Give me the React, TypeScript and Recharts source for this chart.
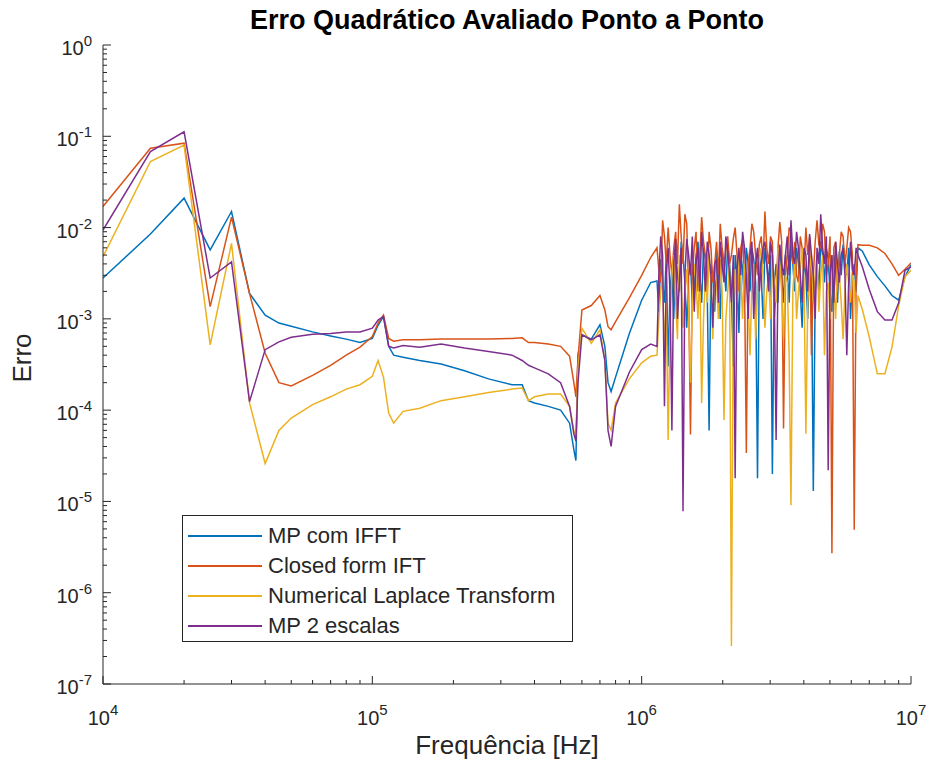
import React from 'react';
import { LineChart, Line, XAxis, YAxis } from 'recharts';

const FONT = '"Liberation Sans", Arial, Helvetica, sans-serif';
const AXIS = '#262626';

// frequency grid in Hz: smooth part, noisy band, tail
const lowFreqs = [
  1e4, 1.5e4, 2e4, 2.5e4, 3e4, 3.5e4, 4e4, 4.5e4, 5e4, 6e4, 7e4, 8e4, 9e4,
  1e5, 1.05e5, 1.1e5, 1.15e5, 1.2e5, 1.3e5, 1.5e5, 1.8e5, 2.2e5, 2.7e5, 3.3e5,
  3.6e5, 3.8e5, 4.0e5, 4.5e5, 5.0e5, 5.4e5, 5.6e5, 5.7e5, 5.8e5, 6.0e5, 6.5e5,
  7.0e5, 7.3e5, 7.5e5, 7.7e5, 8.0e5, 9.0e5, 1.0e6, 1.08e6,
];
const noiseFreqs = [
  1.140e6, 1.158e6, 1.177e6, 1.196e6, 1.215e6, 1.234e6, 1.254e6, 1.274e6, 1.295e6, 1.316e6,
  1.337e6, 1.358e6, 1.380e6, 1.402e6, 1.424e6, 1.447e6, 1.470e6, 1.494e6, 1.518e6, 1.542e6,
  1.567e6, 1.592e6, 1.618e6, 1.644e6, 1.670e6, 1.697e6, 1.724e6, 1.752e6, 1.780e6, 1.808e6,
  1.837e6, 1.867e6, 1.897e6, 1.927e6, 1.958e6, 1.989e6, 2.021e6, 2.054e6, 2.087e6, 2.120e6,
  2.154e6, 2.189e6, 2.224e6, 2.260e6, 2.296e6, 2.333e6, 2.370e6, 2.408e6, 2.447e6, 2.486e6,
  2.526e6, 2.566e6, 2.607e6, 2.649e6, 2.692e6, 2.735e6, 2.779e6, 2.823e6, 2.868e6, 2.914e6,
  2.961e6, 3.009e6, 3.057e6, 3.106e6, 3.156e6, 3.207e6, 3.258e6, 3.310e6, 3.363e6, 3.417e6,
  3.472e6, 3.528e6, 3.584e6, 3.642e6, 3.700e6, 3.760e6, 3.820e6, 3.881e6, 3.943e6, 4.007e6,
  4.071e6, 4.136e6, 4.202e6, 4.270e6, 4.338e6, 4.408e6, 4.478e6, 4.550e6, 4.623e6, 4.697e6,
  4.772e6, 4.849e6, 4.927e6, 5.006e6, 5.086e6, 5.168e6, 5.250e6, 5.335e6, 5.420e6, 5.507e6,
  5.595e6, 5.685e6, 5.776e6, 5.869e6, 5.963e6, 6.058e6, 6.155e6, 6.254e6, 6.354e6,
];
const highFreqs = [6.6e6, 7.0e6, 7.5e6, 8.0e6, 8.5e6, 9.0e6, 9.5e6, 1.0e7];

// MP com IFFT
const mpIfftLow = [
  2.8e-3, 8.5e-3, 2.1e-2, 5.7e-3, 1.5e-2, 1.9e-3, 1.1e-3, 9.0e-4, 8.3e-4, 7.2e-4, 6.5e-4, 6.0e-4, 5.5e-4,
  6.1e-4, 8.5e-4, 1.06e-3, 5.0e-4, 4.0e-4, 3.8e-4, 3.5e-4, 3.2e-4, 2.7e-4, 2.2e-4, 1.9e-4,
  1.9e-4, 1.27e-4, 1.2e-4, 1.1e-4, 1.0e-4, 7.2e-5, 3.7e-5, 2.8e-5, 4.0e-4, 6.7e-4, 6.0e-4,
  8.6e-4, 5.0e-4, 2.0e-4, 1.6e-4, 2.3e-4, 6.9e-4, 1.6e-3, 2.5e-3,
];
const mpIfftNoise = [
  2.6e-3, 1.2e-3, 4.5e-3, 2.5e-3, 1.5e-3, 5.0e-3, 3.0e-4, 2.0e-3, 3.5e-3, 1.0e-3,
  6.0e-3, 3.0e-3, 2.0e-3, 7.0e-3, 5.0e-3, 2.5e-3, 8.0e-4, 3.0e-3, 4.0e-3, 1.5e-3,
  2.5e-3, 5.0e-3, 7.0e-3, 3.0e-3, 1.5e-3, 6.0e-3, 4.5e-3, 2.0e-3, 6.0e-5, 4.0e-3,
  3.0e-3, 1.2e-3, 5.5e-3, 3.5e-3, 1.0e-3, 6.0e-3, 4.0e-3, 2.0e-3, 6.5e-3, 4.0e-3,
  2.0e-3, 3.0e-4, 5.0e-3, 3.0e-3, 7.0e-4, 5.0e-3, 3.5e-3, 1.5e-3, 6.0e-3, 4.0e-3,
  2.0e-3, 6.0e-3, 4.5e-3, 2.5e-3, 1.8e-5, 5.0e-3, 3.0e-3, 1.0e-3, 6.0e-3, 4.0e-3,
  2.5e-3, 5.0e-3, 2.0e-5, 2.5e-3, 4.0e-3, 1.5e-3, 5.5e-3, 3.0e-3, 1.5e-3, 5.0e-3,
  3.5e-3, 1.5e-3, 6.5e-3, 4.0e-3, 2.0e-3, 6.0e-3, 4.0e-3, 2.0e-3, 8.0e-4, 4.5e-3,
  3.0e-3, 1.0e-3, 5.0e-3, 3.0e-3, 1.3e-5, 2.0e-3, 4.0e-3, 2.0e-3, 7.0e-3, 5.0e-3,
  2.5e-3, 6.0e-3, 4.5e-3, 2.0e-3, 1.2e-3, 5.0e-3, 3.5e-3, 1.5e-3, 5.5e-3, 3.0e-3,
  6.5e-3, 4.5e-3, 3.0e-3, 6.0e-3, 1.0e-3, 3.0e-3, 4.0e-3, 2.0e-3, 6.0e-3,
];
const mpIfftHigh = [5.5e-3, 3.9e-3, 2.9e-3, 2.3e-3, 1.8e-3, 1.6e-3, 2.9e-3, 3.9e-3];

// Closed form IFT
const closedLow = [
  1.7e-2, 7.4e-2, 8.4e-2, 1.36e-3, 1.3e-2, 1.9e-3, 4.2e-4, 2.0e-4, 1.84e-4, 2.4e-4, 3.1e-4, 4.0e-4, 4.9e-4,
  6.4e-4, 9.0e-4, 1.1e-3, 6.1e-4, 5.7e-4, 5.9e-4, 5.9e-4, 6.0e-4, 6.0e-4, 6.0e-4, 6.1e-4,
  6.2e-4, 5.5e-4, 5.5e-4, 5.3e-4, 5.0e-4, 3.9e-4, 2.0e-4, 1.4e-4, 3.6e-4, 1.25e-3, 1.4e-3,
  1.8e-3, 1.25e-3, 8.2e-4, 7.6e-4, 9.3e-4, 1.7e-3, 3.0e-3, 4.7e-3,
];
const closedNoise = [
  6.0e-3, 3.5e-3, 2.5e-3, 1.2e-2, 8.0e-3, 4.0e-3, 1.0e-2, 5.0e-3, 3.0e-3, 6.0e-3,
  9.0e-3, 4.0e-3, 1.8e-2, 8.0e-3, 4.0e-3, 1.4e-2, 1.1e-2, 2.0e-3, 5.4e-5, 3.0e-3,
  6.0e-3, 9.0e-3, 2.0e-3, 5.0e-3, 1.3e-2, 7.0e-3, 5.0e-3, 2.0e-3, 9.0e-3, 6.0e-3,
  2.5e-3, 4.0e-3, 7.0e-3, 3.0e-3, 1.1e-2, 6.0e-3, 3.0e-3, 5.5e-3, 8.0e-3, 4.0e-3,
  5.0e-3, 7.5e-3, 1.0e-2, 5.0e-3, 2.0e-3, 6.0e-3, 7.5e-3, 3.0e-3, 3.4e-5, 4.0e-3,
  6.0e-3, 1.1e-2, 9.0e-3, 5.0e-3, 3.0e-3, 6.5e-3, 8.0e-3, 4.0e-3, 1.5e-2, 6.0e-3,
  4.0e-3, 8.0e-3, 7.0e-3, 1.0e-3, 2.0e-3, 6.0e-3, 1.15e-2, 7.0e-3, 6.3e-5, 3.0e-3,
  5.0e-3, 1.0e-2, 9.0e-3, 4.0e-3, 7.0e-3, 3.0e-3, 2.5e-3, 8.0e-3, 6.0e-3, 3.5e-3,
  1.0e-2, 5.0e-3, 8.0e-3, 4.0e-4, 3.0e-3, 7.0e-3, 1.2e-2, 6.5e-3, 6.0e-3, 1.1e-2,
  9.0e-3, 3.0e-3, 4.0e-3, 8.0e-3, 2.7e-6, 6.0e-3, 7.0e-3, 2.0e-3, 5.0e-3, 9.0e-3,
  8.0e-3, 4.0e-3, 6.0e-3, 1.0e-2, 9.0e-3, 5.0e-3, 4.9e-6, 3.0e-3, 6.5e-3,
];
const closedHigh = [6.4e-3, 6.4e-3, 6.0e-3, 5.2e-3, 4.0e-3, 3.0e-3, 3.5e-3, 4.1e-3];

// Numerical Laplace Transform
const laplaceLow = [
  4.8e-3, 5.3e-2, 8.0e-2, 5.2e-4, 6.7e-3, 1.2e-4, 2.6e-5, 6.0e-5, 8.2e-5, 1.15e-4, 1.4e-4, 1.7e-4, 1.9e-4,
  2.35e-4, 3.5e-4, 2.3e-4, 9.3e-5, 7.2e-5, 9.7e-5, 1.05e-4, 1.27e-4, 1.4e-4, 1.56e-4, 1.7e-4,
  1.75e-4, 1.27e-4, 1.4e-4, 1.5e-4, 1.5e-4, 1.1e-4, 6.0e-5, 5.2e-5, 2.7e-4, 7.9e-4, 5.4e-4,
  7.6e-4, 3.5e-4, 7.2e-5, 6.0e-5, 1.2e-4, 2.2e-4, 3.3e-4, 3.9e-4,
];
const laplaceNoise = [
  4.0e-4, 1.0e-3, 2.0e-3, 3.0e-3, 5.0e-4, 1.5e-3, 4.7e-5, 8.0e-4, 3.0e-3, 5.0e-3,
  1.5e-3, 6.0e-4, 5.0e-3, 2.5e-3, 8.0e-4, 2.0e-3, 3.5e-3, 1.2e-3, 2.0e-4, 1.5e-3,
  4.0e-3, 2.5e-3, 1.0e-3, 3.5e-3, 1.2e-4, 1.0e-3, 3.0e-3, 1.5e-3, 5.0e-3, 2.5e-3,
  6.0e-4, 3.5e-3, 2.5e-3, 1.0e-3, 4.5e-3, 2.0e-3, 7.8e-5, 1.0e-3, 2.0e-3, 4.0e-3,
  2.6e-7, 1.5e-3, 3.5e-3, 1.5e-3, 5.5e-3, 3.0e-3, 1.0e-3, 4.0e-3, 3.0e-3, 1.5e-3,
  4.0e-4, 2.5e-3, 4.0e-3, 6.0e-4, 2.0e-3, 4.5e-3, 6.0e-3, 3.0e-3, 8.0e-4, 2.0e-3,
  3.0e-3, 1.0e-3, 5.0e-3, 2.5e-3, 1.5e-3, 6.0e-3, 4.0e-3, 2.0e-3, 6.0e-4, 3.0e-3,
  2.5e-3, 4.0e-4, 9.1e-6, 2.0e-3, 4.5e-3, 1.0e-3, 2.0e-3, 3.5e-3, 6.0e-3, 2.5e-3,
  5.5e-5, 1.5e-3, 3.5e-3, 5.0e-3, 1.5e-3, 3.0e-3, 5.0e-3, 1.2e-3, 3.0e-3, 5.0e-3,
  4.0e-4, 2.0e-3, 2.5e-3, 1.0e-3, 5.0e-3, 2.5e-3, 1.0e-3, 4.0e-3, 3.0e-3, 1.5e-3,
  6.0e-4, 2.0e-3, 4.0e-3, 2.5e-3, 1.5e-3, 3.0e-3, 2.5e-3, 7.0e-4, 1.8e-3,
];
const laplaceHigh = [1.26e-3, 6.3e-4, 2.5e-4, 2.5e-4, 4.9e-4, 1.4e-3, 2.9e-3, 3.4e-3];

// MP 2 escalas
const mp2Low = [
  9.4e-3, 6.8e-2, 1.12e-1, 2.8e-3, 4.2e-3, 1.24e-4, 4.6e-4, 5.6e-4, 6.3e-4, 6.8e-4, 6.9e-4, 7.2e-4, 7.2e-4,
  7.9e-4, 9.7e-4, 1.06e-3, 5.0e-4, 4.8e-4, 5.1e-4, 4.9e-4, 5.3e-4, 4.8e-4, 4.4e-4, 4.0e-4,
  3.5e-4, 3.1e-4, 2.9e-4, 2.5e-4, 2.0e-4, 1.1e-4, 5.5e-5, 4.6e-5, 2.0e-4, 6.7e-4, 5.9e-4,
  6.7e-4, 3.5e-4, 6.0e-5, 4.0e-5, 1.1e-4, 2.6e-4, 4.6e-4, 5.3e-4,
];
const mp2Noise = [
  5.0e-4, 3.0e-3, 8.0e-3, 5.0e-3, 1.1e-4, 3.0e-3, 6.0e-3, 2.0e-3, 6.0e-5, 4.0e-3,
  7.5e-3, 1.0e-3, 2.5e-3, 6.0e-3, 7.8e-6, 3.0e-3, 7.5e-3, 5.0e-3, 3.0e-3, 8.0e-3,
  1.2e-3, 4.0e-3, 6.0e-3, 2.0e-3, 9.0e-3, 5.0e-3, 2.0e-3, 7.0e-3, 5.0e-3, 3.0e-3,
  8.0e-4, 4.0e-3, 4.5e-3, 1.5e-3, 7.0e-3, 4.0e-3, 2.5e-3, 8.0e-3, 5.5e-3, 3.0e-3,
  1.5e-3, 5.0e-3, 1.8e-5, 3.5e-3, 6.0e-3, 3.0e-3, 9.0e-3, 6.0e-3, 3.0e-3, 1.0e-3,
  5.0e-3, 7.0e-3, 1.0e-3, 4.0e-3, 6.0e-3, 2.0e-3, 4.0e-3, 6.0e-3, 7.0e-3, 4.0e-3,
  2.0e-3, 7.0e-3, 5.0e-3, 2.0e-3, 4.7e-5, 3.0e-3, 6.5e-3, 4.0e-3, 3.0e-3, 5.0e-3,
  8.0e-3, 3.0e-3, 1.2e-2, 5.0e-3, 4.0e-3, 9.0e-3, 6.0e-3, 3.0e-3, 1.5e-3, 6.0e-3,
  5.0e-3, 2.0e-3, 8.5e-3, 5.0e-3, 3.0e-3, 1.0e-3, 6.0e-3, 4.0e-3, 1.4e-2, 6.0e-3,
  4.0e-3, 8.0e-3, 2.2e-5, 3.0e-3, 5.0e-3, 1.5e-3, 7.0e-3, 4.0e-3, 2.5e-3, 5.0e-3,
  6.0e-3, 3.0e-3, 4.0e-4, 2.5e-3, 7.0e-3, 3.5e-3, 3.0e-3, 6.0e-3, 5.0e-3,
];
const mp2High = [3.7e-3, 2.1e-3, 1.2e-3, 9.7e-4, 9.7e-4, 1.5e-3, 3.4e-3, 3.7e-3];

const xMajor = [1e4, 1e5, 1e6, 1e7];
const yMajor = [1e-7, 1e-6, 1e-5, 1e-4, 1e-3, 1e-2, 1e-1, 1];

const series = [
  { key: 'mpIfft', name: 'MP com IFFT', color: '#0072BD', values: [...mpIfftLow, ...mpIfftNoise, ...mpIfftHigh] },
  { key: 'closed', name: 'Closed form IFT', color: '#D95319', values: [...closedLow, ...closedNoise, ...closedHigh] },
  { key: 'laplace', name: 'Numerical Laplace Transform', color: '#EDB120', values: [...laplaceLow, ...laplaceNoise, ...laplaceHigh] },
  { key: 'mp2', name: 'MP 2 escalas', color: '#7E2F8E', values: [...mp2Low, ...mp2Noise, ...mp2High] },
];

const freqs = [...lowFreqs, ...noiseFreqs, ...highFreqs];
const data = freqs.map((f, i) => {
  const row: Record<string, number> = { f };
  series.forEach((s) => {
    row[s.key] = s.values[i];
  });
  return row;
});

// majors plus the 2..9 minor ticks of each decade
const withMinors = (majors: number[]) => {
  const out: number[] = [];
  majors.forEach((m, i) => {
    out.push(m);
    if (i < majors.length - 1) for (let k = 2; k <= 9; k++) out.push(m * k);
  });
  return out;
};
const xTicks = withMinors(xMajor);
const yTicks = withMinors(yMajor);

const exponent = (v: number) => Math.round(Math.log10(v));
const isMajor = (v: number) => Math.abs(Math.log10(v) - exponent(v)) < 1e-6;
const tickLen = (v: number) => (isMajor(v) ? 8 : 4);

function BottomTick({ x, y, payload }: any) {
  const v = payload.value;
  return (
    <g>
      <line x1={x} y1={y} x2={x} y2={y - tickLen(v)} stroke={AXIS} />
      {isMajor(v) && (
        <text x={x} y={y + 41} textAnchor="middle" fill={AXIS} fontSize={20} fontFamily={FONT}>
          10<tspan dy={-10} fontSize={15}>{exponent(v)}</tspan>
        </text>
      )}
    </g>
  );
}

function TopTick({ x, y, payload }: any) {
  return <line x1={x} y1={y} x2={x} y2={y + tickLen(payload.value)} stroke={AXIS} />;
}

function LeftTick({ x, y, payload }: any) {
  const v = payload.value;
  return (
    <g>
      <line x1={x} y1={y} x2={x + tickLen(v)} y2={y} stroke={AXIS} />
      {isMajor(v) && (
        <text x={x - 11} y={y + 10} textAnchor="end" fill={AXIS} fontSize={20} fontFamily={FONT}>
          10<tspan dy={-9} fontSize={15}>{exponent(v)}</tspan>
        </text>
      )}
    </g>
  );
}

function RightTick({ x, y, payload }: any) {
  return <line x1={x} y1={y} x2={x - tickLen(payload.value)} y2={y} stroke={AXIS} />;
}

export default function App() {
  return (
    <div style={{ position: 'absolute', left: 0, top: 0, width: 933, height: 769, background: '#fff', fontFamily: FONT }}>
      <LineChart width={933} height={769} data={data} margin={{ top: 45, right: 22, bottom: 0, left: 0 }}>
        <XAxis
          dataKey="f"
          type="number"
          scale="log"
          domain={[1e4, 1e7]}
          allowDataOverflow
          ticks={xTicks}
          interval={0}
          tickSize={0}
          tickMargin={0}
          tickLine={false}
          axisLine={{ stroke: AXIS }}
          height={85}
          tick={(p: any) => <BottomTick {...p} />}
        />
        <XAxis
          xAxisId="top"
          orientation="top"
          dataKey="f"
          type="number"
          scale="log"
          domain={[1e4, 1e7]}
          allowDataOverflow
          ticks={xTicks}
          interval={0}
          tickSize={0}
          tickMargin={0}
          tickLine={false}
          axisLine={{ stroke: AXIS }}
          height={0}
          tick={(p: any) => <TopTick {...p} />}
        />
        <YAxis
          type="number"
          scale="log"
          domain={[1e-7, 1]}
          allowDataOverflow
          ticks={yTicks}
          interval={0}
          tickSize={0}
          tickMargin={0}
          tickLine={false}
          axisLine={{ stroke: AXIS }}
          width={103}
          tick={(p: any) => <LeftTick {...p} />}
        />
        <YAxis
          yAxisId="right"
          orientation="right"
          type="number"
          scale="log"
          domain={[1e-7, 1]}
          allowDataOverflow
          ticks={yTicks}
          interval={0}
          tickSize={0}
          tickMargin={0}
          tickLine={false}
          axisLine={{ stroke: AXIS }}
          width={0}
          tick={(p: any) => <RightTick {...p} />}
        />
        {series.map((s) => (
          <Line
            key={s.key}
            type="linear"
            dataKey={s.key}
            name={s.name}
            stroke={s.color}
            strokeWidth={1.5}
            dot={false}
            isAnimationActive={false}
          />
        ))}
      </LineChart>

      <div
        style={{
          position: 'absolute', left: 103, top: 4, width: 808, textAlign: 'center',
          fontSize: 27, fontWeight: 'bold', color: '#000', lineHeight: '32px',
        }}
      >
        Erro Quadrático Avaliado Ponto a Ponto
      </div>

      <div
        style={{
          position: 'absolute', left: 507, top: 745, transform: 'translate(-50%, -50%)',
          fontSize: 26, color: AXIS, whiteSpace: 'nowrap',
        }}
      >
        Frequência [Hz]
      </div>

      <div
        style={{
          position: 'absolute', left: 22, top: 358, transform: 'translate(-50%, -50%) rotate(-90deg)',
          fontSize: 26, color: AXIS, whiteSpace: 'nowrap',
        }}
      >
        Erro
      </div>

      <div
        style={{
          position: 'absolute', left: 182, top: 515, width: 391, height: 127, boxSizing: 'border-box',
          border: `1px solid ${AXIS}`, background: '#fff', paddingTop: 5,
        }}
      >
        {series.map((s) => (
          <div key={s.key} style={{ display: 'flex', alignItems: 'center', height: 30 }}>
            <div style={{ marginLeft: 5, width: 74, height: 1.5, background: s.color }} />
            <span style={{ marginLeft: 6, fontSize: 22, color: AXIS, whiteSpace: 'nowrap' }}>{s.name}</span>
          </div>
        ))}
      </div>
    </div>
  );
}
